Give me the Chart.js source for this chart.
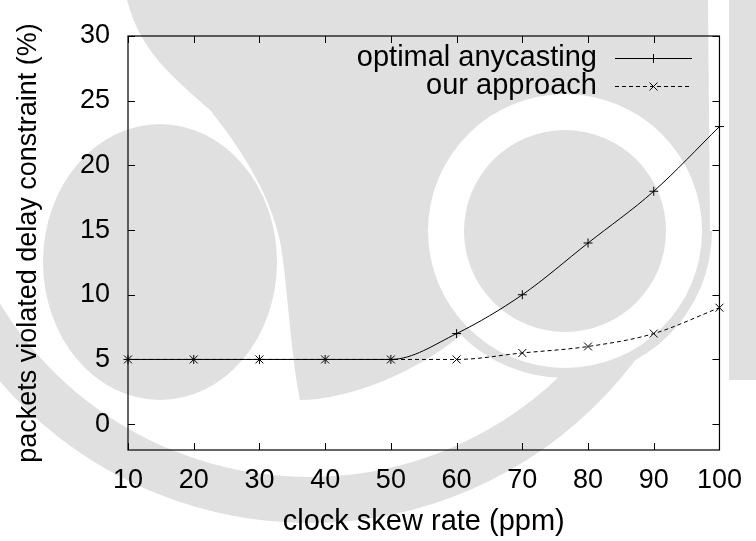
<!DOCTYPE html>
<html>
<head>
<meta charset="utf-8">
<script src="https://cdn.jsdelivr.net/npm/chart.js@4.4.0/dist/chart.umd.min.js"></script>
<style>
  html, body { margin: 0; padding: 0; background: #fff; }
  #wrap { width: 756px; height: 541px; }
</style>
</head>
<body>
<div id="wrap"><canvas id="skew-chart" width="756" height="541"></canvas></div>
<script>
// data
var skewRates = [10, 20, 30, 40, 50, 60, 70, 80, 90, 100];
var optimalAnycasting = [5, 5, 5, 5, 5, 7, 10, 14, 18, 23];
var ourApproach = [5, 5, 5, 5, 5, 5, 5.5, 6, 7, 9];
var xTicks = [10, 20, 30, 40, 50, 60, 70, 80, 90, 100];
var yTicks = [0, 5, 10, 15, 20, 25, 30];
var seriesNames = ["optimal anycasting", "our approach"];

function toPoints(ys) {
  return skewRates.map(function (x, i) { return { x: x, y: ys[i] }; });
}

// light grey logo in the background
var watermark = {
  id: 'watermark',
  beforeDraw: function (chart) {
    var ctx = chart.ctx;
    var grey = '#e0e0e0';
    ctx.save();
    ctx.fillStyle = grey;
    // big top blob
    ctx.beginPath();
    ctx.moveTo(127, 0);
    ctx.lineTo(708, 0);
    ctx.lineTo(710, 231);
    ctx.arc(565, 231, 147, 0, Math.PI * 0.75);
    ctx.bezierCurveTo(420, 370, 350, 400, 300, 400);
    ctx.bezierCurveTo(292, 360, 288, 300, 283, 260);
    ctx.bezierCurveTo(278, 210, 250, 160, 210, 110);
    ctx.bezierCurveTo(170, 75, 140, 50, 127, 0);
    ctx.fill();
    // left disk
    ctx.beginPath();
    ctx.ellipse(160, 262, 117, 138, 0, 0, Math.PI * 2);
    ctx.fill();
    // right strip
    ctx.fillRect(729, 0, 27, 380);
    // lower band
    ctx.beginPath();
    ctx.strokeStyle = grey;
    ctx.lineWidth = 46;
    ctx.arc(309, 115, 385, Math.PI * 0.12, Math.PI * 0.99);
    ctx.stroke();
    // white ring and inner disk
    ctx.fillStyle = '#fff';
    ctx.beginPath();
    ctx.arc(565, 231, 137, 0, Math.PI * 2);
    ctx.fill();
    ctx.fillStyle = grey;
    ctx.beginPath();
    ctx.arc(565, 231, 101, 0, Math.PI * 2);
    ctx.fill();
    ctx.restore();
  }
};

// gnuplot style frame with inward ticks on all sides
var frame = {
  id: 'frame',
  afterDatasetsDraw: function (chart) {
    var ctx = chart.ctx;
    var a = chart.chartArea;
    var xs = chart.scales.x, ys = chart.scales.y;
    var len = 7;
    ctx.save();
    ctx.strokeStyle = '#000';
    ctx.lineWidth = 1.2;
    ctx.strokeRect(a.left, a.top, a.right - a.left, a.bottom - a.top);
    ctx.lineWidth = 1;
    ctx.beginPath();
    xs.ticks.forEach(function (t) {
      var px = Math.round(xs.getPixelForValue(t.value)) + 0.5;
      ctx.moveTo(px, a.bottom); ctx.lineTo(px, a.bottom - len);
      ctx.moveTo(px, a.top); ctx.lineTo(px, a.top + len);
    });
    ys.ticks.forEach(function (t) {
      var py = Math.round(ys.getPixelForValue(t.value)) + 0.5;
      ctx.moveTo(a.left, py); ctx.lineTo(a.left + len, py);
      ctx.moveTo(a.right, py); ctx.lineTo(a.right - len, py);
    });
    ctx.stroke();
    ctx.restore();
  }
};

function drawMarker(ctx, style, x, y, r) {
  ctx.beginPath();
  if (style === 'cross') {
    ctx.moveTo(x - r, y); ctx.lineTo(x + r, y);
    ctx.moveTo(x, y - r); ctx.lineTo(x, y + r);
  } else {
    var d = r * Math.SQRT1_2;
    ctx.moveTo(x - d, y - d); ctx.lineTo(x + d, y + d);
    ctx.moveTo(x - d, y + d); ctx.lineTo(x + d, y - d);
  }
  ctx.stroke();
}

// key in the top right, text first then sample
var key = {
  id: 'key',
  afterDraw: function (chart) {
    var ctx = chart.ctx;
    ctx.save();
    ctx.font = '29px "Liberation Sans", Arial, sans-serif';
    ctx.textAlign = 'right';
    ctx.textBaseline = 'middle';
    chart.data.datasets.forEach(function (ds, i) {
      var cy = 58 + i * 28;
      ctx.fillStyle = '#000';
      ctx.fillText(ds.label, 597, cy);
      ctx.strokeStyle = '#000';
      ctx.lineWidth = 1;
      ctx.setLineDash(ds.borderDash || []);
      ctx.beginPath();
      ctx.moveTo(615, cy + 0.5); ctx.lineTo(692, cy + 0.5);
      ctx.stroke();
      ctx.setLineDash([]);
      drawMarker(ctx, ds.pointStyle, 653.5, cy + 0.5, ds.pointStyle === 'cross' ? 4.5 : 5.6);
    });
    ctx.restore();
  }
};

var ctx = document.getElementById('skew-chart').getContext('2d');
new Chart(ctx, {
  type: 'line',
  data: {
    datasets: [{
      label: seriesNames[0],
      data: toPoints(optimalAnycasting),
      borderColor: '#000',
      borderWidth: 1,
      pointStyle: 'cross',
      pointRadius: 4.5,
      pointBorderColor: '#000',
      pointBorderWidth: 1,
      cubicInterpolationMode: 'monotone',
      fill: false
    }, {
      label: seriesNames[1],
      data: toPoints(ourApproach),
      borderColor: '#000',
      borderWidth: 1,
      borderDash: [4, 3],
      pointStyle: 'crossRot',
      pointRadius: 5.6,
      pointBorderColor: '#000',
      pointBorderWidth: 1,
      cubicInterpolationMode: 'monotone',
      fill: false
    }]
  },
  options: {
    responsive: false,
    animation: false,
    clip: false,
    layout: { padding: { left: 0, right: 30, top: 36, bottom: 0 } },
    plugins: {
      legend: { display: false },
      tooltip: { enabled: false }
    },
    scales: {
      x: {
        type: 'linear',
        min: 10,
        max: 100,
        afterBuildTicks: function (axis) {
          axis.ticks = xTicks.map(function (v) { return { value: v }; });
        },
        afterFit: function (axis) { axis.height = 91; },
        grid: { display: false, drawTicks: false },
        border: { display: false },
        ticks: {
          padding: 14,
          maxRotation: 0,
          autoSkip: false,
          color: '#000',
          font: { size: 27, family: '"Liberation Sans", Arial, sans-serif' }
        },
        title: {
          display: true,
          text: 'clock skew rate (ppm)',
          color: '#000',
          padding: { top: 0, bottom: 2 },
          font: { size: 29, family: '"Liberation Sans", Arial, sans-serif' }
        }
      },
      y: {
        type: 'linear',
        min: -2,
        max: 30,
        afterBuildTicks: function (axis) {
          axis.ticks = yTicks.map(function (v) { return { value: v }; });
        },
        afterFit: function (axis) { axis.width = 128; },
        grid: { display: false, drawTicks: false },
        border: { display: false },
        ticks: {
          padding: 18,
          color: '#000',
          font: { size: 27, family: '"Liberation Sans", Arial, sans-serif' }
        },
        title: {
          display: true,
          text: 'packets violated delay constraint (%)',
          color: '#000',
          padding: { top: 12, bottom: 0 },
          font: { size: 27, family: '"Liberation Sans", Arial, sans-serif' }
        }
      }
    }
  },
  plugins: [watermark, frame, key]
});
</script>
</body>
</html>
